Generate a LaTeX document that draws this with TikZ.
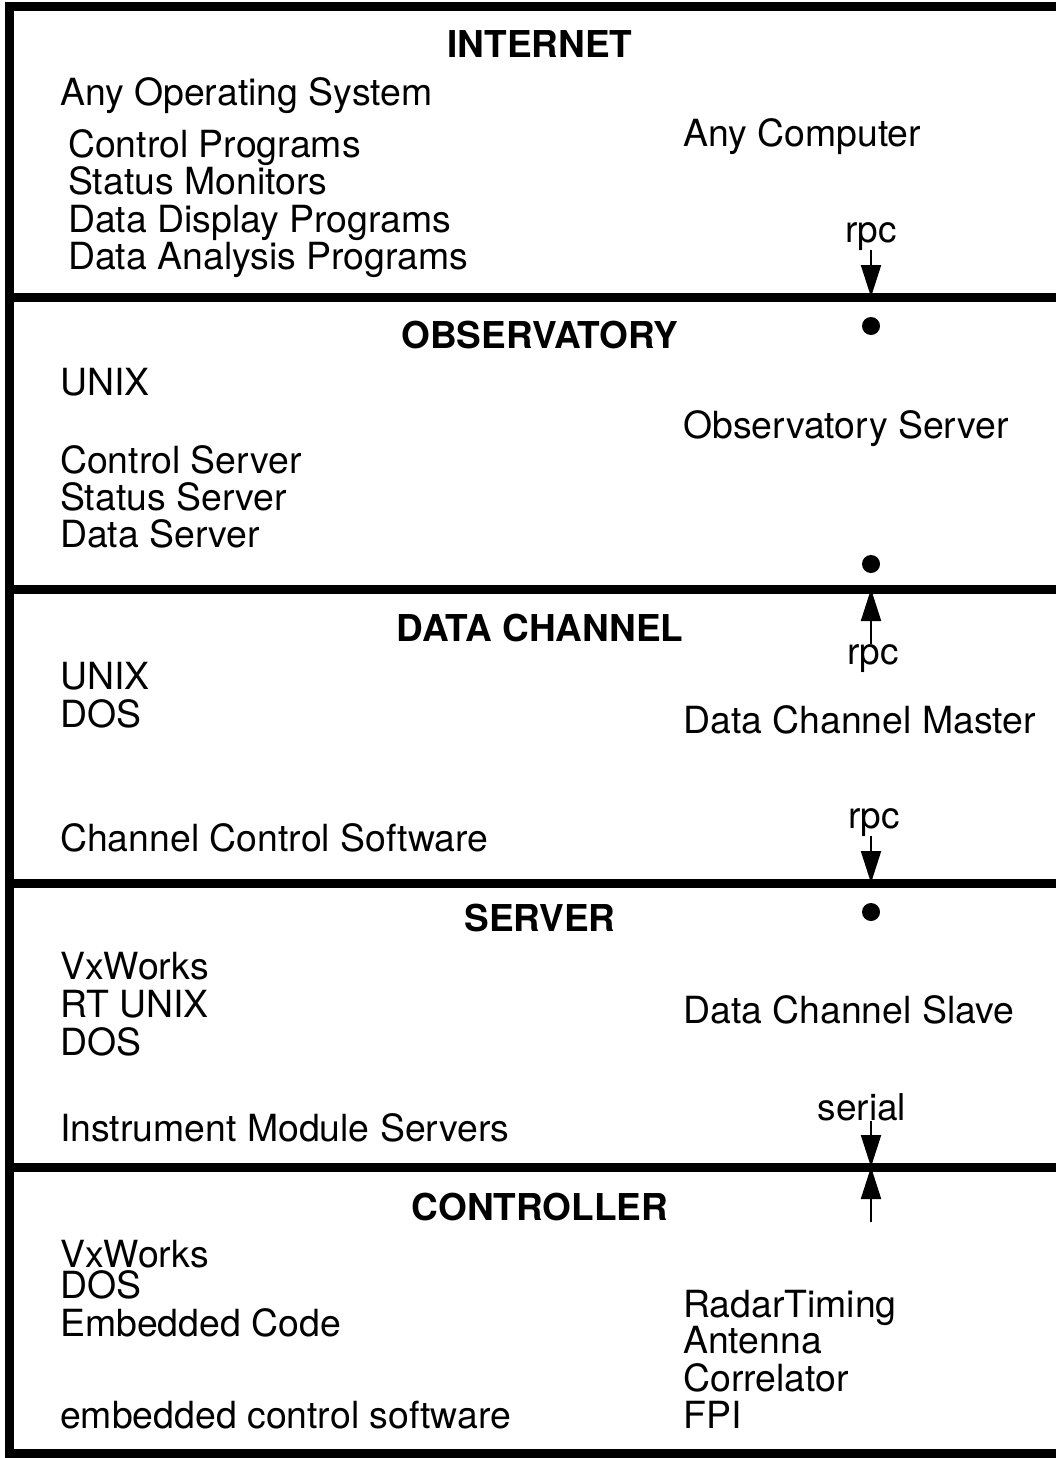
\documentclass[tikz,border=0pt]{standalone}
\usepackage{fontspec}
\setmainfont{TeX Gyre Heros}
\usetikzlibrary{arrows.meta}
\begin{document}
\begin{tikzpicture}[x=1pt,y=-1pt,
  lbl/.style={inner sep=0pt, anchor=base west, font=\fontsize{37.4}{37}\selectfont},
  ttl/.style={inner sep=0pt, anchor=base, font=\fontsize{37}{37}\selectfont\bfseries},
  tag/.style={inner sep=0pt, anchor=base, font=\fontsize{37}{37}\selectfont},
  bar/.style={line width=9pt},
  dotmark/.style={circle, fill, inner sep=0pt, minimum size=18pt},
  arr/.style={line width=2pt, -{Triangle[width=20pt,length=32pt]}}
]
\useasboundingbox (0,0) rectangle (1056,1458);
% frame and dividers
\draw[bar, line join=miter] (1070,7) -- (9,7) -- (9,1453) -- (1070,1453);
\draw[bar] (9,297) -- (1070,297);
\draw[bar] (9,589) -- (1070,589);
\draw[bar] (9,883) -- (1070,883);
\draw[bar] (9,1167) -- (1070,1167);

% INTERNET
\node[ttl] (tInternet) at (540,58) {INTERNET};
\node[lbl] (os1) at (60,106) {Any Operating System};
\node[lbl] (i1) at (68,158) {Control Programs};
\node[lbl] (i2) at (68,195) {Status Monitors};
\node[lbl] (i3) at (68,232) {Data Display Programs};
\node[lbl] (i4) at (68,269) {Data Analysis Programs};
\node[lbl] (anyc) at (683,147) {Any Computer};
\node[tag] (rpc1) at (871,242) {rpc};
\coordinate (e1) at (871,297);
\draw[arr] (rpc1.south) -- (e1);

% OBSERVATORY
\node[dotmark] (dot1) at (871,326) {};
\node[ttl] (tObs) at (540,348) {OBSERVATORY};
\node[lbl] (os2) at (60,395) {UNIX};
\node[lbl] (obss) at (683,438) {Observatory Server};
\node[lbl] (o1) at (60,473) {Control Server};
\node[lbl] (o2) at (60,510) {Status Server};
\node[lbl] (o3) at (60,547) {Data Server};
\node[dotmark] (dot2) at (871,564) {};

% DATA CHANNEL
\node[ttl] (tDC) at (540,641) {DATA CHANNEL};
\node[tag] (rpc2) at (873,664) {rpc};
\coordinate (e2) at (871,589);
\draw[arr] (rpc2.north -| e2) -- (e2);
\node[lbl] (os3a) at (60,689) {UNIX};
\node[lbl] (os3b) at (60,727) {DOS};
\node[lbl] (dcm) at (683,733) {Data Channel Master};
\node[lbl] (ccs) at (60,851) {Channel Control Software};
\node[tag] (rpc3) at (874,828) {rpc};
\coordinate (e3) at (871,883);
\draw[arr] (rpc3.south -| e3) -- (e3);

% SERVER
\node[dotmark] (dot3) at (871,912) {};
\node[ttl] (tSrv) at (540,931) {SERVER};
\node[lbl] (os4a) at (60,979) {VxWorks};
\node[lbl] (os4b) at (60,1017) {RT UNIX};
\node[lbl] (os4c) at (60,1055) {DOS};
\node[lbl] (dcs) at (683,1023) {Data Channel Slave};
\node[tag] (serial) at (862,1120) {serial};
\node[lbl] (ims) at (60,1141) {Instrument Module Servers};
\coordinate (e4) at (871,1167);
\draw[arr] (serial.south -| e4) -- (e4);

% CONTROLLER
\coordinate (s5) at (871,1222);
\draw[arr] (s5) -- (e4);
\node[ttl] (tCtl) at (540,1220) {CONTROLLER};
\node[lbl] (os5a) at (60,1267) {VxWorks};
\node[lbl] (os5b) at (60,1298) {DOS};
\node[lbl] (os5c) at (60,1336) {Embedded Code};
\node[lbl] (ecs) at (60,1428) {embedded control software};
\node[lbl] (c1) at (683,1317) {RadarTiming};
\node[lbl] (c2) at (683,1353) {Antenna};
\node[lbl] (c3) at (683,1391) {Correlator};
\node[lbl] (c4) at (683,1428) {FPI};
\end{tikzpicture}
\end{document}
